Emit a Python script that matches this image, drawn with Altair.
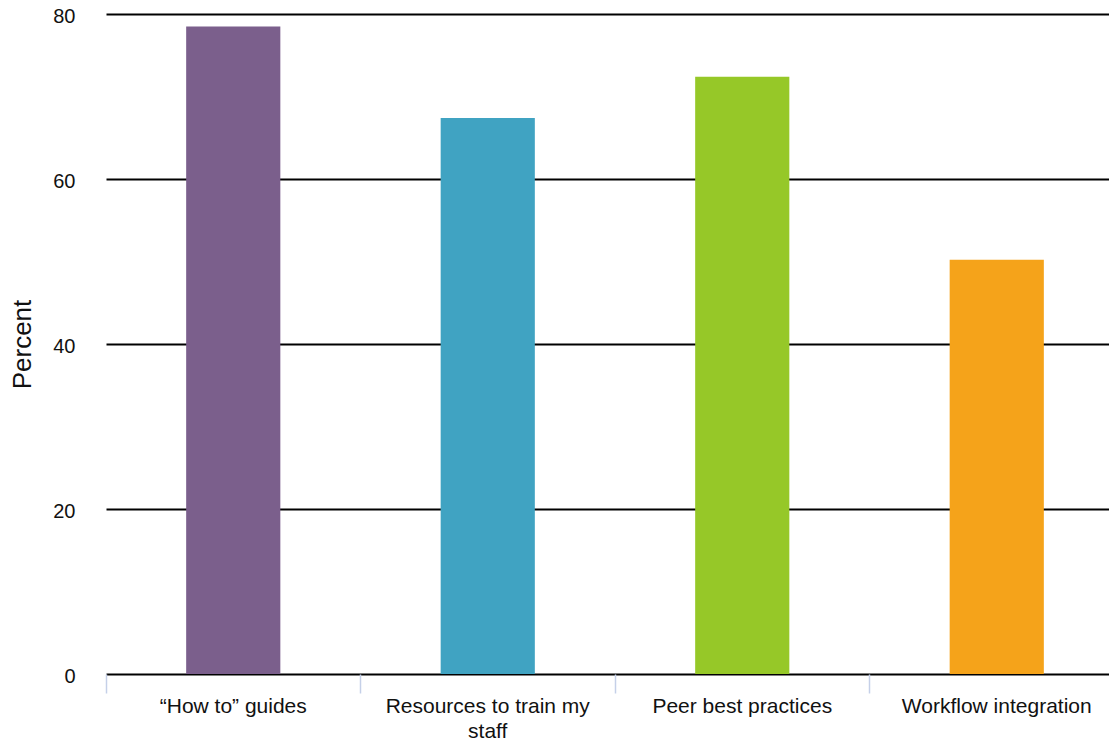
import altair as alt
import pandas as pd

categories = ["\u201cHow to\u201d guides", "Resources to train my staff", "Peer best practices", "Workflow integration"]
values = [78.5, 67.4, 72.4, 50.2]
colors = ["#7b5f8c", "#40a3c2", "#96c828", "#f5a31a"]
y_ticks = [0, 20, 40, 60, 80]

df = pd.DataFrame({"category": categories, "value": values})

FONT = "Liberation Sans"

chart = alt.Chart(df).mark_bar(width=alt.RelativeBandSize(0.37)).encode(
    x=alt.X(
        "category:N",
        sort=categories,
        scale=alt.Scale(paddingInner=0, paddingOuter=0, range=[0, 1018]),
        axis=alt.Axis(
            title=None,
            domain=False,
            grid=False,
            ticks=True,
            tickColor="#c5d0e8",
            tickWidth=1.5,
            tickSize=19,
            bandPosition=0,
            labelAngle=0,
            labelFont=FONT,
            labelFontSize=21,
            labelColor="#111111",
            labelPadding=2,
            labelBaseline="top",
            labelLineHeight=25,
            labelLimit=400,
            labelExpr="datum.value == 'Resources to train my staff' ? ['Resources to train my', 'staff'] : datum.value",
        ),
    ),
    y=alt.Y(
        "value:Q",
        scale=alt.Scale(domain=[0, 80], nice=False),
        axis=alt.Axis(
            title="Percent",
            values=y_ticks,
            domain=False,
            ticks=False,
            grid=True,
            gridColor="#000000",
            gridWidth=2,
            gridOpacity=1,
            labelFont=FONT,
            labelFontSize=20,
            labelColor="#111111",
            labelPadding=31,
            labelOffset=2,
            titleFont=FONT,
            titleFontSize=26,
            titleFontWeight="normal",
            titleColor="#111111",
            titlePadding=17,
        ),
    ),
    color=alt.Color("category:N", scale=alt.Scale(domain=categories, range=colors), legend=None),
).properties(
    width=1003,
    height=660,
    autosize=alt.AutoSizeParams(type="none"),
    padding={"left": 98, "top": 6, "right": 0, "bottom": 68},
).configure_view(stroke=None)

chart.save("out.html", embed_options={"renderer": "svg", "actions": False})
